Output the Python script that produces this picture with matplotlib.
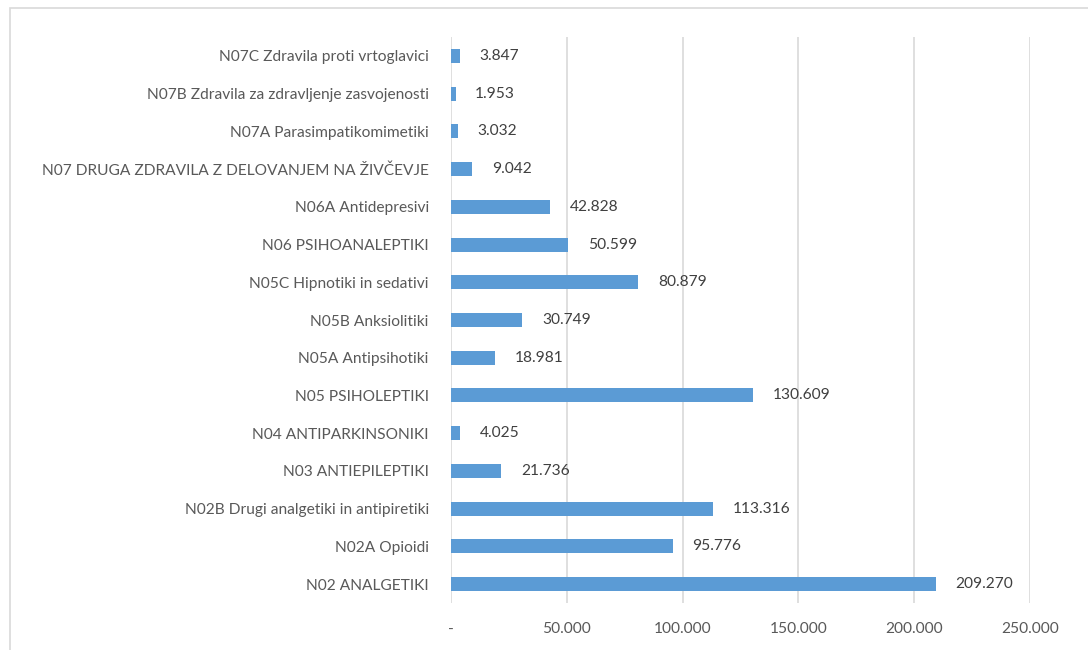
import matplotlib.pyplot as plt
from matplotlib.patches import Rectangle
from matplotlib.ticker import FuncFormatter

categories = [
    "N02 ANALGETIKI",
    "N02A Opioidi",
    "N02B Drugi analgetiki in antipiretiki",
    "N03 ANTIEPILEPTIKI",
    "N04 ANTIPARKINSONIKI",
    "N05 PSIHOLEPTIKI",
    "N05A Antipsihotiki",
    "N05B Anksiolitiki",
    "N05C Hipnotiki in sedativi",
    "N06 PSIHOANALEPTIKI",
    "N06A Antidepresivi",
    "N07 DRUGA ZDRAVILA Z DELOVANJEM NA ŽIVČEVJE",
    "N07A Parasimpatikomimetiki",
    "N07B Zdravila za zdravljenje zasvojenosti",
    "N07C Zdravila proti vrtoglavici",
]
values = [209270, 95776, 113316, 21736, 4025, 130609, 18981, 30749,
          80879, 50599, 42828, 9042, 3032, 1953, 3847]
x_ticks = [0, 50000, 100000, 150000, 200000, 250000]

text_col = "#595959"
bar_col = "#5B9BD5"
grid_col = "#D9D9D9"


def thousands(v):
    if v == 0:
        return "-"
    return f"{int(v):,}".replace(",", ".")


plt.rcParams["font.family"] = ["Lato", "DejaVu Sans"]

fig = plt.figure(figsize=(10.88, 6.5), dpi=100)
ax = fig.add_axes([451 / 1088, 47 / 650, (1030 - 451) / 1088, (603 - 37) / 650])

# outer chart frame (bottom/right edges run off the image)
fig.patches.append(Rectangle((10 / 1088, -0.1), 1.2, 1 - 8 / 650 + 0.1,
                             transform=fig.transFigure, fill=False,
                             edgecolor=grid_col, linewidth=1.2))

pos = range(len(categories))
ax.barh(pos, values, height=0.37, color=bar_col, zorder=3)

for y, v in zip(pos, values):
    ax.text(v + 8500, y, thousands(v), va="center", ha="left",
            fontsize=11.2, color="#404040")

ax.set_xlim(0, 250000)
ax.set_ylim(-0.5, 14.5)
ax.set_xticks(x_ticks)
ax.xaxis.set_major_formatter(FuncFormatter(lambda v, _: thousands(v)))
ax.set_yticks(list(pos))
ax.set_yticklabels(categories)
ax.tick_params(axis="both", length=0, labelsize=11.2, colors=text_col)
ax.tick_params(axis="y", pad=16)
ax.tick_params(axis="x", pad=14)
ax.grid(axis="x", color=grid_col, linewidth=1.2, zorder=0)
for s in ax.spines.values():
    s.set_visible(False)

fig.savefig("out.png", dpi=100)
